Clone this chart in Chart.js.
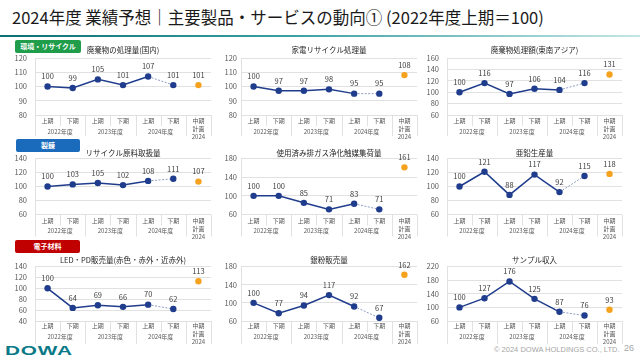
<!DOCTYPE html>
<html>
<head>
<meta charset="utf-8">
<script src="https://cdn.jsdelivr.net/npm/chart.js@4.4.1/dist/chart.umd.min.js"></script>
<style>
body{margin:0;width:640px;height:360px;background:#fff;position:relative;overflow:hidden;font-family:"Noto Sans CJK JP","Noto Sans",sans-serif;}
.title{position:absolute;left:12px;top:6px;font-size:16.5px;line-height:22px;color:#1a1a1a;white-space:nowrap;}
.rule{position:absolute;left:0;top:35px;width:640px;height:2px;background:linear-gradient(to right,#0b6f74,#3a9fa2 45%,#c4e6e6);}
.badge{position:absolute;color:#fff;font-size:7px;font-weight:bold;text-align:center;border-radius:2px;height:13px;line-height:13px;}
canvas{position:absolute;}
.logo{position:absolute;left:5px;top:343px;font-family:"Liberation Sans",sans-serif;font-weight:bold;font-size:13px;color:#0a7a88;transform:scaleX(1.6);transform-origin:left top;letter-spacing:0.5px;}
.copy{position:absolute;left:494px;top:345px;font-family:"Liberation Sans",sans-serif;font-size:7.5px;color:#a6a6a6;white-space:nowrap;}
.page{position:absolute;left:624px;top:343px;font-family:"Liberation Sans",sans-serif;font-size:9px;color:#a6a6a6;}
</style>
</head>
<body>
<div class="title">2024年度 業績予想｜主要製品・サービスの動向① (2022年度上期＝100)</div>
<div class="rule"></div>
<div class="badge" style="left:15px;top:40px;width:66px;background:#1f9d4a;">環境・リサイクル</div>
<div class="badge" style="left:16px;top:139px;width:64px;background:#1b6bbd;">製錬</div>
<div class="badge" style="left:15px;top:240px;width:65px;background:#c00000;">電子材料</div>
<div class="logo">DOWA</div>
<div class="copy">© 2024 DOWA HOLDINGS CO., LTD.</div>
<div class="page">26</div>
<script>
// x axis labels
var periods = ['上期', '下期', '上期', '下期', '上期', '下期', ['中期', '計画', '2024']];
var fiscalYears = ['2022年度', '2023年度', '2024年度'];

// 環境・リサイクル
var wasteDomestic = [100, 99, 105, 101, 107, 101];
var wasteDomesticPlan = 101;
var applianceRecycling = [100, 97, 97, 98, 95, 95];
var applianceRecyclingPlan = 108;
var wasteSeAsia = [100, 116, 97, 106, 104, 116];
var wasteSeAsiaPlan = 131;

// 製錬
var recycledMaterial = [100, 103, 105, 102, 108, 111];
var recycledMaterialPlan = 107;
var catalystCollection = [100, 100, 85, 71, 83, 71];
var catalystCollectionPlan = 161;
var zincProduction = [100, 121, 88, 117, 92, 115];
var zincProductionPlan = 118;

// 電子材料
var ledSales = [100, 64, 69, 66, 70, 62];
var ledSalesPlan = 113;
var silverPowder = [100, 77, 94, 117, 92, 67];
var silverPowderPlan = 162;
var sampleIncome = [100, 127, 176, 125, 87, 76];
var sampleIncomePlan = 93;

var NAVY = '#1f3d8c';
var ORANGE = '#f5a21e';
var GRID = '#d9d9d9';
var FONT = '"Noto Sans CJK JP", "Noto Sans", sans-serif';

var rows = [
    {top: 44, plotTop: 58, plotBottom: 115, bottom: 146, titleY: 50, tickDy: 6, groupDy: 17, long: 21, short: 11},
    {top: 146, plotTop: 158.5, plotBottom: 214.5, bottom: 244, titleY: 153, tickDy: 6.5, groupDy: 16.5, long: 22, short: 11},
    {top: 252, plotTop: 266.5, plotBottom: 321, bottom: 348, titleY: 260, tickDy: 4.5, groupDy: 16, long: 23, short: 11}
];
var cols = [
    {left: 0, width: 215, plotLeft: 35, plotRight: 212, pad: 8},
    {left: 215, width: 210, plotLeft: 241, plotRight: 417, pad: 4},
    {left: 425, width: 215, plotLeft: 447, plotRight: 622, pad: 8}
];

var decor = {
    id: 'decor',
    afterDraw: function(chart, args, opts) {
        var ctx = chart.ctx, a = chart.chartArea, xs = chart.scales.x;
        var n = periods.length;
        var bw = (a.right - a.left) / n;
        ctx.save();
        ctx.strokeStyle = GRID;
        ctx.lineWidth = 0.8;
        for (var i = 0; i <= n; i++) {
            var x = Math.round(a.left + i * bw) + 0.5;
            var len = (i % 2 == 1 && i < 6) ? opts.short : opts.long;
            ctx.beginPath();
            ctx.moveTo(x, a.bottom);
            ctx.lineTo(x, a.bottom + len);
            ctx.stroke();
        }
        ctx.textAlign = 'center';
        ctx.textBaseline = 'middle';
        ctx.fillStyle = '#595959';
        ctx.font = '6px ' + FONT;
        // period labels, from the category scale
        for (var t = 0; t < n; t++) {
            var lines = [].concat(periods[t]);
            var px = xs.getPixelForValue(t);
            for (var l = 0; l < lines.length; l++) {
                ctx.fillText(lines[l], px, a.bottom + opts.tickDy + l * 8);
            }
        }
        for (var k = 0; k < fiscalYears.length; k++) {
            ctx.fillText(fiscalYears[k], (xs.getPixelForValue(2 * k) + xs.getPixelForValue(2 * k + 1)) / 2, a.bottom + opts.groupDy);
        }
        // values above the points
        ctx.fillStyle = '#404040';
        ctx.font = '7.5px ' + FONT;
        chart.data.datasets.forEach(function(ds, di) {
            chart.getDatasetMeta(di).data.forEach(function(pt, j) {
                var v = ds.data[j];
                if (v == null) return;
                ctx.fillText(String(v), pt.x, pt.y - 10);
            });
        });
        // chart title
        ctx.fillStyle = '#262626';
        ctx.font = '7.5px ' + FONT;
        ctx.fillText(opts.title, (a.left + a.right) / 2, opts.titleY);
        ctx.restore();
    }
};

function makeChart(r, c, title, actual, plan, yMin, yMax, step) {
    var row = rows[r], col = cols[c];
    var cv = document.createElement('canvas');
    cv.width = col.width;
    cv.height = row.bottom - row.top;
    cv.style.left = col.left + 'px';
    cv.style.top = row.top + 'px';
    document.body.appendChild(cv);

    var planData = actual.map(function() { return null; });
    planData.push(plan);

    return new Chart(cv.getContext('2d'), {
        type: 'line',
        data: {
            labels: periods,
            datasets: [
            {
                data: actual.concat([null]),
                borderColor: NAVY,
                borderWidth: 1.5,
                pointRadius: 3.2,
                pointBackgroundColor: NAVY,
                pointBorderWidth: 0,
                segment: {
                    borderColor: function(s) { return s.p1DataIndex == 5 ? '#8e9dc2' : undefined; },
                    borderDash: function(s) { return s.p1DataIndex == 5 ? [2, 1.5] : undefined; },
                    borderWidth: function(s) { return s.p1DataIndex == 5 ? 1 : undefined; }
                }
            },
            {
                data: planData,
                showLine: false,
                pointRadius: 3.2,
                pointBackgroundColor: ORANGE,
                pointBorderWidth: 0
            }]
        },
        options: {
            responsive: false,
            animation: false,
            devicePixelRatio: 1,
            layout: {
                padding: {top: row.plotTop - row.top, right: col.width - (col.plotRight - col.left), left: 0, bottom: 0}
            },
            plugins: {
                legend: {display: false},
                tooltip: {enabled: false},
                decor: {title: title, titleY: row.titleY - row.top, tickDy: row.tickDy, groupDy: row.groupDy, long: row.long, short: row.short}
            },
            scales: {
                x: {
                    offset: true,
                    grid: {display: false},
                    border: {display: false},
                    ticks: {display: false},
                    afterFit: function(s) { s.height = row.bottom - row.plotBottom; }
                },
                y: {
                    min: yMin,
                    max: yMax,
                    ticks: {stepSize: step, autoSkip: false, font: {size: 7.5, family: FONT}, color: '#595959', padding: col.pad},
                    grid: {color: GRID, lineWidth: 0.8, drawTicks: false},
                    border: {display: true, color: GRID, width: 0.8},
                    afterFit: function(s) { s.width = col.plotLeft - col.left; }
                }
            }
        },
        plugins: [decor]
    });
}

makeChart(0, 0, '廃棄物の処理量(国内)', wasteDomestic, wasteDomesticPlan, 80, 120, 10);
makeChart(0, 1, '家電リサイクル処理量', applianceRecycling, applianceRecyclingPlan, 80, 120, 10);
makeChart(0, 2, '廃棄物処理額(東南アジア)', wasteSeAsia, wasteSeAsiaPlan, 60, 160, 20);
makeChart(1, 0, 'リサイクル原料取扱量', recycledMaterial, recycledMaterialPlan, 60, 140, 20);
makeChart(1, 1, '使用済み排ガス浄化触媒集荷量', catalystCollection, catalystCollectionPlan, 60, 180, 40);
makeChart(1, 2, '亜鉛生産量', zincProduction, zincProductionPlan, 60, 140, 20);
makeChart(2, 0, 'LED・PD販売量(赤色・赤外・近赤外)', ledSales, ledSalesPlan, 40, 140, 20);
makeChart(2, 1, '銀粉販売量', silverPowder, silverPowderPlan, 60, 180, 40);
makeChart(2, 2, 'サンプル収入', sampleIncome, sampleIncomePlan, 60, 220, 40);
</script>
</body>
</html>
